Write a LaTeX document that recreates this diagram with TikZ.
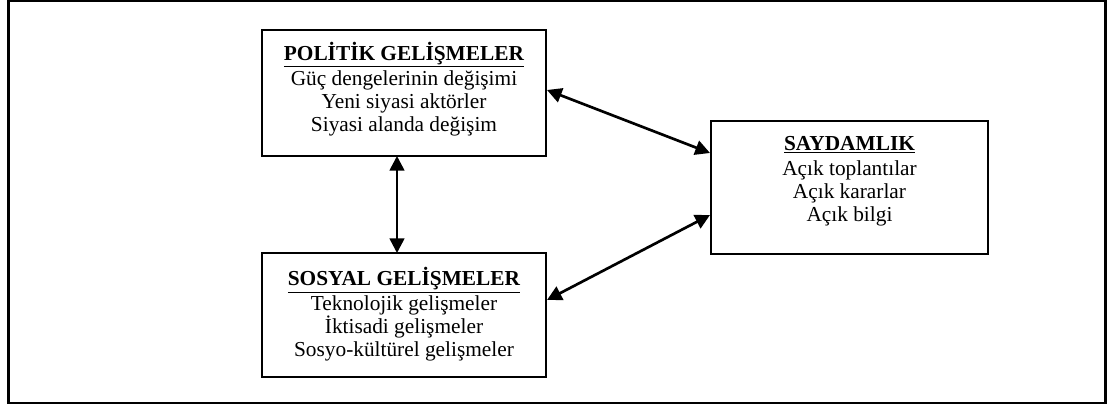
\documentclass[tikz,border=0pt]{standalone}
\usepackage{fontspec}
\setmainfont{Liberation Serif}
\usetikzlibrary{arrows.meta}
\begin{document}
\begin{tikzpicture}[x=0.75pt,y=-0.75pt,
  every node/.style={inner sep=0pt,outer sep=0pt},
  panel/.style={draw,line width=1.5pt},
  caption/.style={align=center,font=\fontsize{16}{17}\selectfont},
  link/.style={line width=2pt,{Triangle[length=11pt,width=11pt]}-{Triangle[length=11pt,width=11pt]}}]
  \useasboundingbox (0,0) rectangle (1108,406);
  % outer frame
  \draw[line width=1.8pt] (8.5,1) rectangle (1105.5,403);
  % boxes
  \node[panel,minimum width=284*0.75pt,minimum height=126*0.75pt] (pol) at (404,93) {};
  \node[panel,minimum width=284*0.75pt,minimum height=124*0.75pt] (sos) at (404,315) {};
  \node[panel,minimum width=277*0.75pt,minimum height=133*0.75pt] (say) at (849.5,187.5) {};
  % box texts
  \node[caption] (poltxt) at (404,89)
    {\underline{\textbf{POLİTİK GELİŞMELER}}\\[2pt]Güç dengelerinin değişimi\\Yeni siyasi aktörler\\Siyasi alanda değişim};
  \node[caption] (sostxt) at (404,314)
    {\underline{\textbf{SOSYAL GELİŞMELER}}\\[2pt]Teknolojik gelişmeler\\İktisadi gelişmeler\\Sosyo-kültürel gelişmeler};
  \node[caption] (saytxt) at (849.5,181)
    {\underline{\textbf{SAYDAMLIK}}\\[2pt]Açık toplantılar\\Açık kararlar\\Açık bilgi};
  % connector end points on the box borders
  \coordinate (pb) at (397,156);
  \coordinate (st) at (397,253);
  \coordinate (p1) at (547,90);
  \coordinate (s1) at (710,153);
  \coordinate (s2) at (710,215);
  \coordinate (p2) at (547,300);
  \draw[link] (pb) -- (st);
  \draw[link] (p1) -- (s1);
  \draw[link] (s2) -- (p2);
\end{tikzpicture}
\end{document}
